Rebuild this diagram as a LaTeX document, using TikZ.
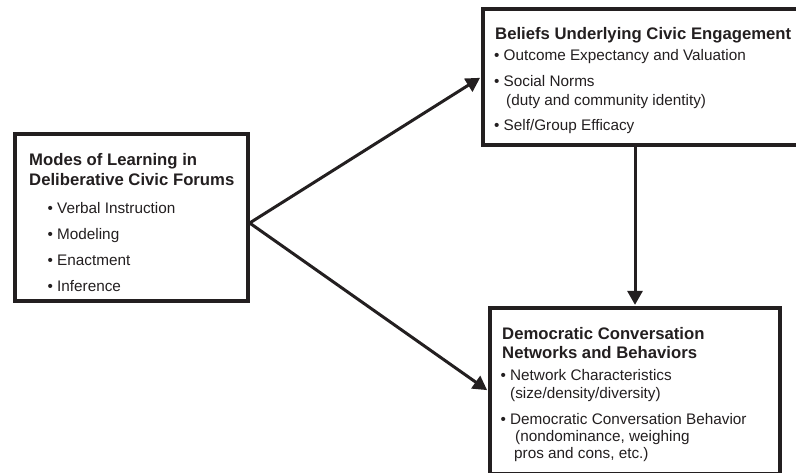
\documentclass[tikz,border=0pt]{standalone}
\usepackage{fontspec}
\setmainfont{Liberation Sans}
\usetikzlibrary{arrows.meta}
\definecolor{ink}{HTML}{231F20}

% bullet followed by a fixed gap before the item text
\newcommand\itembul{\makebox[9.5pt][l]{•}}

\tikzset{
  box/.style={draw=ink, line width=3.3pt, rectangle, inner sep=0pt, fill=white},
  head/.style={anchor=base west, inner sep=0pt, text=ink,
    font=\fontsize{16.7}{20}\selectfont\bfseries},
  item/.style={anchor=base west, inner sep=0pt, text=ink,
    font=\fontsize{15.3}{18}\selectfont},
  link/.style={draw=ink, line width=3pt, shorten >=1.5pt,
    -{Triangle[length=14pt,width=15pt]}}
}

\begin{document}
\begin{tikzpicture}[x=1pt,y=-1pt]
\useasboundingbox (0,0) rectangle (796,472);

% the three boxes
\node[box, minimum width=233pt, minimum height=167pt] (L) at (131.5,217.5) {};
\node[box, minimum width=317pt, minimum height=136pt] (T) at (641.5,77) {};
\node[box, minimum width=290pt, minimum height=166pt] (B) at (635,391) {};

% connectors
\draw[link] ([yshift=-5.5pt]L.east) -- (T.west);
\draw[link] ([yshift=-5.5pt]L.east) -- (B.west);
\draw[link] (B.north |- T.south) -- (B.north);

% modes of learning
\node[head] (l1) at (29,165) {Modes of Learning in};
\node[head] (l2) at (29,185) {Deliberative Civic Forums};
\node[item] (l3) at (47.5,213.5) {\itembul Verbal Instruction};
\node[item] (l4) at (47.5,239.5) {\itembul Modeling};
\node[item] (l5) at (47.5,265.5) {\itembul Enactment};
\node[item] (l6) at (47.5,291.5) {\itembul Inference};

% beliefs
\node[head] (t1) at (495,39) {Beliefs Underlying Civic Engagement};
\node[item] (t2) at (494,60.5) {\itembul Outcome Expectancy and Valuation};
\node[item] (t3) at (494,86.5) {\itembul Social Norms};
\node[item] (t4) at (506,105.5) {(duty and community identity)};
\node[item] (t5) at (494,130.5) {\itembul Self/Group Efficacy};

% conversation networks
\node[head] (b1) at (502,339) {Democratic Conversation};
\node[head] (b2) at (502,358) {Networks and Behaviors};
\node[item] (b3) at (500.5,380) {\itembul Network Characteristics};
\node[item] (b4) at (510,398.5) {(size/density/diversity)};
\node[item] (b5) at (500.5,424) {\itembul Democratic Conversation Behavior};
\node[item] (b6) at (515,441.5) {(nondominance, weighing};
\node[item] (b7) at (514,458.5) {pros and cons, etc.)};
\end{tikzpicture}
\end{document}
